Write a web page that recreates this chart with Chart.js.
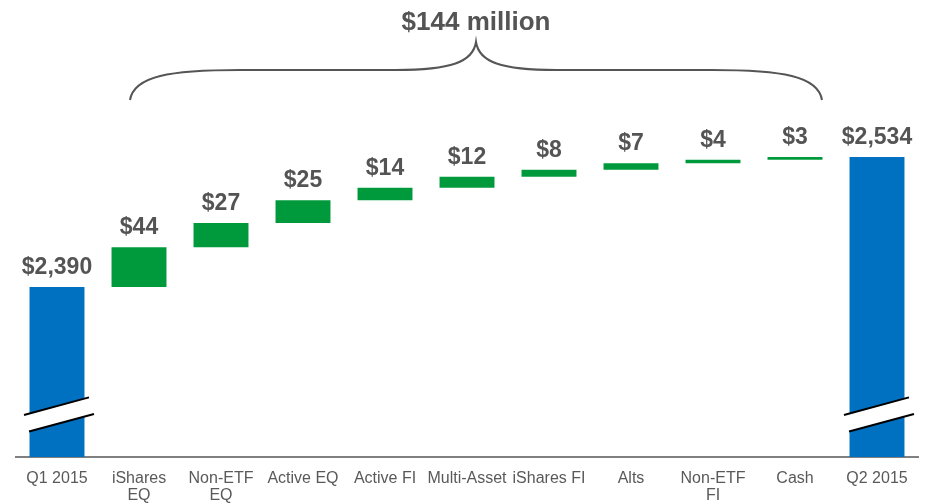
<!DOCTYPE html>
<html>
<head>
<meta charset="utf-8">
<script src="https://cdn.jsdelivr.net/npm/chart.js@4.4.1/dist/chart.umd.min.js"></script>
<style>
  html, body { margin: 0; padding: 0; background: #ffffff; }
  #wrap { width: 926px; height: 504px; position: relative; }
</style>
</head>
<body>
<div id="wrap"><canvas id="c"></canvas></div>
<script>
// ---- data ----
const categories = [
  ["Q1 2015"], ["iShares", "EQ"], ["Non-ETF", "EQ"], ["Active EQ"], ["Active FI"],
  ["Multi-Asset"], ["iShares FI"], ["Alts"], ["Non-ETF", "FI"], ["Cash"], ["Q2 2015"]
];
const startTotal = 2390;
const endTotal = 2534;
const flowChanges = [44, 27, 25, 14, 12, 8, 7, 4, 3];
const totalLabel = "$144 million";
const axisMin = 2202;
const axisMax = 2586;

// ---- build floating bars ----
const barRanges = [];
const barColors = [];
const barLabels = [];
const fmt = v => "$" + v.toLocaleString("en-US");
barRanges.push([axisMin, startTotal]); barColors.push("#0070C0"); barLabels.push(fmt(startTotal));
let running = startTotal;
flowChanges.forEach(ch => {
  barRanges.push([running, running + ch]);
  barColors.push("#009A3D");
  barLabels.push(fmt(ch));
  running += ch;
});
barRanges.push([axisMin, endTotal]); barColors.push("#0070C0"); barLabels.push(fmt(endTotal));

const LABEL_FONT = "bold 23px 'Liberation Sans', Arial, sans-serif";
const TITLE_FONT = "bold 26px 'Liberation Sans', Arial, sans-serif";
const TEXT_GRAY = "#545454";

const overlay = {
  id: "overlay",
  afterDatasetsDraw(chart) {
    const ctx = chart.ctx;
    const meta = chart.getDatasetMeta(0);
    const xs = chart.scales.x;

    // break marks on total bars
    [0, meta.data.length - 1].forEach(i => {
      const bar = meta.data[i];
      const cx = bar.x;
      const cy = chart.chartArea.bottom - 42;
      const slope = -0.27;
      const up = (x) => cy - 9 + (x - cx) * slope;
      const lo = (x) => cy + 9 + (x - cx) * slope;
      const x1 = cx - 33, x2 = cx + 32, x3 = cx - 28, x4 = cx + 37;
      ctx.save();
      ctx.fillStyle = "#ffffff";
      ctx.beginPath();
      ctx.moveTo(x1, up(x1));
      ctx.lineTo(x2, up(x2));
      ctx.lineTo(x4, lo(x4));
      ctx.lineTo(x3, lo(x3));
      ctx.closePath();
      ctx.fill();
      ctx.strokeStyle = "#000000";
      ctx.lineWidth = 2;
      ctx.beginPath();
      ctx.moveTo(x1, up(x1)); ctx.lineTo(x2, up(x2));
      ctx.moveTo(x3, lo(x3)); ctx.lineTo(x4, lo(x4));
      ctx.stroke();
      ctx.restore();
    });

    // value labels
    ctx.save();
    ctx.font = LABEL_FONT;
    ctx.fillStyle = TEXT_GRAY;
    ctx.textAlign = "center";
    ctx.textBaseline = "alphabetic";
    meta.data.forEach((bar, i) => {
      const top = Math.min(bar.y, bar.base);
      ctx.fillText(barLabels[i], bar.x, top - 13);
    });
    ctx.restore();

    // brace
    const left = xs.getPixelForValue(1) - 9;
    const right = xs.getPixelForValue(flowChanges.length) + 27;
    const mid = (left + right) / 2;
    const yEnd = 100, yFlat = 70, yTip = 42;
    ctx.save();
    ctx.strokeStyle = "#555555";
    ctx.lineWidth = 2;
    ctx.beginPath();
    ctx.moveTo(left, yEnd);
    ctx.bezierCurveTo(left + 4, yFlat + 6, left + 40, yFlat, left + 110, yFlat);
    ctx.lineTo(mid - 80, yFlat);
    ctx.bezierCurveTo(mid - 25, yFlat, mid - 3, yFlat - 8, mid, yTip);
    ctx.bezierCurveTo(mid + 3, yFlat - 8, mid + 25, yFlat, mid + 80, yFlat);
    ctx.lineTo(right - 110, yFlat);
    ctx.bezierCurveTo(right - 40, yFlat, right - 4, yFlat + 6, right, yEnd);
    ctx.stroke();
    ctx.font = TITLE_FONT;
    ctx.fillStyle = TEXT_GRAY;
    ctx.textAlign = "center";
    ctx.textBaseline = "alphabetic";
    ctx.fillText(totalLabel, mid, 30);
    ctx.restore();
  }
};

new Chart(document.getElementById("c"), {
  type: "bar",
  data: {
    labels: categories,
    datasets: [{
      data: barRanges,
      backgroundColor: barColors,
      borderWidth: 0,
      borderSkipped: false,
      barPercentage: 0.67,
      categoryPercentage: 1.0
    }]
  },
  options: {
    responsive: true,
    maintainAspectRatio: false,
    animation: false,
    layout: { padding: { left: 16, right: 8, top: 110, bottom: 0 } },
    plugins: { legend: { display: false }, tooltip: { enabled: false } },
    scales: {
      x: {
        grid: { display: false, drawTicks: false },
        border: { display: true, color: "#808080", width: 2 },
        ticks: {
          color: "#595959",
          font: { family: "'Liberation Sans', Arial, sans-serif", size: 16, lineHeight: 1.07 },
          padding: 13,
          maxRotation: 0,
          autoSkip: false
        },
        afterFit(scale) { scale.height = 47; }
      },
      y: {
        display: false,
        min: axisMin,
        max: axisMax
      }
    }
  },
  plugins: [overlay]
});
</script>
</body>
</html>
